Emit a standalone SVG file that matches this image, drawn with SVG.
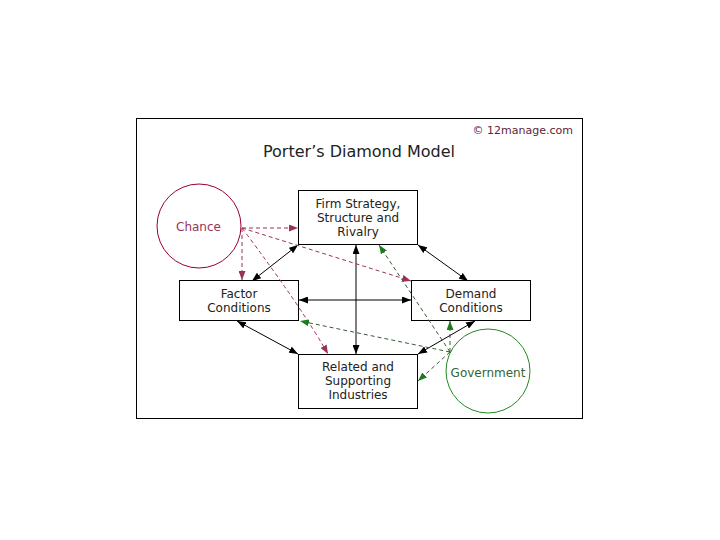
<svg xmlns="http://www.w3.org/2000/svg" width="720" height="540" viewBox="0 0 720 540">
<style>
text{font-family:"DejaVu Sans",Verdana,sans-serif;font-size:12px;fill:#222;text-anchor:middle}
.box{fill:#fff;stroke:#000;stroke-width:1}
.solid{stroke:#000;stroke-width:1;fill:none;marker-start:url(#ab);marker-end:url(#ab)}
.red{stroke:#993355;stroke-width:1;fill:none;stroke-dasharray:4,3;marker-end:url(#ar)}
.grn{stroke:#3a5a3a;stroke-width:1;fill:none;stroke-dasharray:4,3;marker-end:url(#ag)}
</style>
<defs>
<marker id="ab" markerUnits="userSpaceOnUse" markerWidth="9" markerHeight="7" refX="9" refY="3.5" orient="auto-start-reverse"><path d="M0,0 L9,3.5 L0,7 z" fill="#000"/></marker>
<marker id="ar" markerUnits="userSpaceOnUse" markerWidth="9" markerHeight="7" refX="9" refY="3.5" orient="auto"><path d="M0,0 L9,3.5 L0,7 z" fill="#993355"/></marker>
<marker id="ag" markerUnits="userSpaceOnUse" markerWidth="9" markerHeight="7" refX="9" refY="3.5" orient="auto"><path d="M0,0 L9,3.5 L0,7 z" fill="#1f7a1f"/></marker>
</defs>
<rect x="0" y="0" width="720" height="540" fill="#fff"/>
<rect x="136.5" y="118.5" width="446" height="300" fill="#fff" stroke="#000"/>
<text x="573" y="134" style="font-size:11px;text-anchor:end;fill:#662233">© 12manage.com</text>
<text x="359" y="157" style="font-size:16px">Porter’s Diamond Model</text>
<g id="chance"><circle cx="199" cy="226" r="42" fill="none" stroke="#990033"/><text x="198.5" y="231" style="fill:#993355">Chance</text></g>
<g id="government"><circle cx="488" cy="371" r="42" fill="none" stroke="#228822"/><text x="488" y="377" style="fill:#336633">Government</text></g>
<g id="firm"><rect class="box" x="298.5" y="190.5" width="119" height="54"/><text x="358" y="208">Firm Strategy,</text><text x="358" y="222">Structure and</text><text x="358" y="236">Rivalry</text></g>
<g id="factor"><rect class="box" x="179.5" y="280.5" width="119" height="40"/><text x="239" y="298">Factor</text><text x="239" y="312">Conditions</text></g>
<g id="demand"><rect class="box" x="411.5" y="280.5" width="119" height="40"/><text x="471" y="298">Demand</text><text x="471" y="312">Conditions</text></g>
<g id="related"><rect class="box" x="298.5" y="354.5" width="119" height="54"/><text x="358" y="371">Related and</text><text x="358" y="385">Supporting</text><text x="358" y="399">Industries</text></g>
<g id="connectors">
<line class="solid" x1="298" y1="245" x2="252" y2="281"/>
<line class="solid" x1="418" y1="245" x2="468" y2="281"/>
<line class="solid" x1="299" y1="300" x2="411" y2="300"/>
<line class="solid" x1="356" y1="245" x2="356" y2="354"/>
<line class="solid" x1="237" y1="321" x2="298" y2="354"/>
<line class="solid" x1="475" y1="321" x2="418" y2="354"/>
<line class="red" x1="242" y1="228" x2="298" y2="228"/>
<line class="red" x1="242" y1="228" x2="242" y2="280"/>
<line class="red" x1="242" y1="228" x2="411" y2="281"/>
<path class="red" d="M242,228 Q300,305 328,354"/>
<line class="grn" x1="450" y1="352" x2="379" y2="245"/>
<line class="grn" x1="450" y1="352" x2="300" y2="321"/>
<line class="grn" x1="450" y1="352" x2="450" y2="321"/>
<line class="grn" x1="450" y1="352" x2="418" y2="381"/>
</g>
</svg>
